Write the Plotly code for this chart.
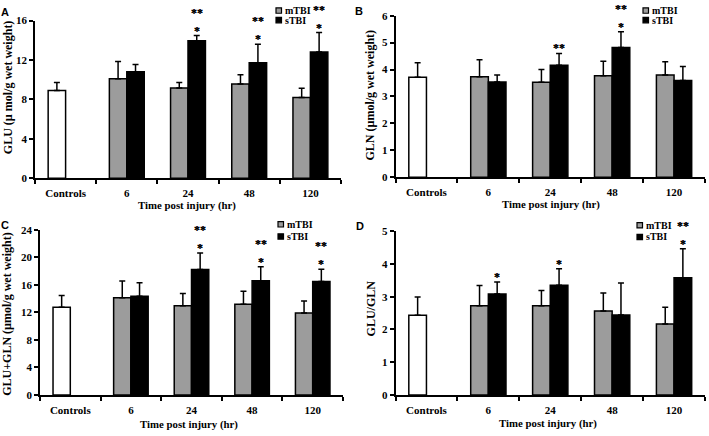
import plotly.graph_objects as go

W, H = 709, 436

# ---------------- data ----------------
time_points = ["6", "24", "48", "120"]
control_label = ["Controls"]

glu_ctrl = [8.9]
glu_ctrl_sd = [0.82]
glu_m = [10.1, 9.15, 9.57, 8.18]
glu_m_sd = [1.75, 0.56, 0.92, 0.96]
glu_s = [10.8, 13.95, 11.72, 12.8]
glu_s_sd = [0.73, 0.53, 1.88, 1.98]

gln_ctrl = [3.71]
gln_ctrl_sd = [0.54]
gln_m = [3.73, 3.53, 3.77, 3.8]
gln_m_sd = [0.63, 0.47, 0.54, 0.49]
gln_s = [3.54, 4.16, 4.82, 3.59]
gln_s_sd = [0.26, 0.44, 0.58, 0.52]

sum_ctrl = [12.75]
sum_ctrl_sd = [1.7]
sum_m = [14.1, 12.94, 13.18, 11.9]
sum_m_sd = [2.46, 1.79, 1.88, 1.75]
sum_s = [14.35, 18.2, 16.6, 16.47]
sum_s_sd = [1.95, 2.4, 2.0, 1.79]

ratio_ctrl = [2.43]
ratio_ctrl_sd = [0.56]
ratio_m = [2.72, 2.72, 2.56, 2.17]
ratio_m_sd = [0.62, 0.47, 0.55, 0.51]
ratio_s = [3.08, 3.35, 2.44, 3.58]
ratio_s_sd = [0.37, 0.5, 0.98, 0.88]

# significance marks above the sTBI bars (first level, second level)
glu_sig1 = ["", "*", "*", "*"]
glu_sig2 = ["", "**", "**", "**"]
gln_sig1 = ["", "**", "*", ""]
gln_sig2 = ["", "", "**", ""]
sum_sig1 = ["", "*", "*", "*"]
sum_sig2 = ["", "**", "**", "**"]
ratio_sig1 = ["*", "*", "", "*"]
ratio_sig2 = ["", "", "", "**"]

y_titles = ["GLU (\u00b5 mol/g wet weight)", "GLN (\u00b5mol/g wet weight)",
            "GLU+GLN (\u00b5mol/g wet weight)", "GLU/GLN"]
x_title = "Time post injury (hr)"
panel_letters = ["A", "B", "C", "D"]
y_ranges = [16, 6, 24, 5]
y_dticks = [4, 1, 4, 1]

# ---------------- style / layout ----------------
GREY = "#9c9c9c"
SERIF = "Liberation Serif, Times New Roman, serif"
SANS = "Liberation Sans, Arial, sans-serif"
BARGAP = 0.43

# pixel geometry of each panel: x0, x1, y_top, y_bottom
panels_px = [
    (35, 341, 15, 177),
    (395.5, 705, 10, 176),
    (40, 343, 230, 400),
    (395.5, 705, 231.5, 400),
]
ytitle_pos = [(7.5, 84), (370, 92), (7.5, 317), (371, 311)]
xtitle_pos = [(187, 205), (551, 204), (189, 430), (548, 429)]
letter_pos = [(5, 6), (358.5, 5.5), (4.5, 225), (360, 226)]
legend_pos = [(276, 4.7, 14.5), (643, 4.7, 14.5), (278, 224.5, 237), (637, 225.5, 237.5)]

datasets = [
    (glu_ctrl, glu_ctrl_sd, glu_m, glu_m_sd, glu_s, glu_s_sd, glu_sig1, glu_sig2),
    (gln_ctrl, gln_ctrl_sd, gln_m, gln_m_sd, gln_s, gln_s_sd, gln_sig1, gln_sig2),
    (sum_ctrl, sum_ctrl_sd, sum_m, sum_m_sd, sum_s, sum_s_sd, sum_sig1, sum_sig2),
    (ratio_ctrl, ratio_ctrl_sd, ratio_m, ratio_m_sd, ratio_s, ratio_s_sd, ratio_sig1, ratio_sig2),
]

categories = control_label + time_points

fig = go.Figure()
annotations = []
shapes = []


def err(sd):
    return dict(type="data", array=sd, arrayminus=[0] * len(sd), symmetric=False,
                color="black", thickness=1.5, width=3)


for i, (ctrl, ctrl_sd, m, m_sd, s, s_sd, sig1, sig2) in enumerate(datasets):
    n = "" if i == 0 else str(i + 1)
    xa, ya = "x" + n, "y" + n
    line = dict(color="black", width=1.5)
    fig.add_trace(go.Bar(x=control_label, y=ctrl, name="Controls", offsetgroup="m",
                         marker=dict(color="white", line=line), error_y=err(ctrl_sd),
                         xaxis=xa, yaxis=ya, showlegend=False))
    fig.add_trace(go.Bar(x=time_points, y=m, name="mTBI", offsetgroup="m",
                         marker=dict(color=GREY, line=line), error_y=err(m_sd),
                         xaxis=xa, yaxis=ya, showlegend=False))
    fig.add_trace(go.Bar(x=time_points, y=s, name="sTBI", offsetgroup="s",
                         marker=dict(color="black", line=line), error_y=err(s_sd),
                         xaxis=xa, yaxis=ya, showlegend=False))

    x0, x1, yt, yb = panels_px[i]
    axis_common = dict(showline=True, linecolor="black", linewidth=1.5, ticks="outside",
                       ticklen=4, tickwidth=1.5, tickcolor="black", showgrid=False,
                       zeroline=False,
                       tickfont=dict(family=SERIF, size=11, color="black", weight="bold"))
    fig.layout["xaxis" + n] = dict(axis_common, domain=[x0 / W, x1 / W], anchor=ya,
                                   type="category", categoryorder="array",
                                   categoryarray=categories, tickson="boundaries",
                                   range=[-0.5, 4.5], ticklabelstandoff=4)
    fig.layout["yaxis" + n] = dict(axis_common, domain=[1 - yb / H, 1 - yt / H], anchor=xa,
                                   range=[0, y_ranges[i]], dtick=y_dticks[i], tick0=0)

    # significance marks over sTBI bars
    off = (1 - BARGAP) / 4
    star_font = dict(family=SERIF, size=12, color="black", weight="bold",
                     shadow="0px 0px 0.6px black")
    for j, tp in enumerate(time_points):
        top = s[j] + s_sd[j]
        if sig1[j]:
            annotations.append(dict(x=j + 1 + off, y=top, xref=xa, yref=ya, text=sig1[j],
                                    showarrow=False, yanchor="bottom", yshift=-4,
                                    font=star_font))
        if sig2[j]:
            annotations.append(dict(x=j + 1 + off, y=top, xref=xa, yref=ya, text=sig2[j],
                                    showarrow=False, yanchor="bottom", yshift=14,
                                    font=star_font))

    # axis titles
    tx, ty = ytitle_pos[i]
    annotations.append(dict(x=tx / W, y=1 - ty / H, xref="paper", yref="paper",
                            text=y_titles[i], textangle=-90, showarrow=False,
                            xanchor="center", yanchor="middle",
                            font=dict(family=SERIF, size=12, color="black", weight="bold")))
    tx, ty = xtitle_pos[i]
    annotations.append(dict(x=tx / W, y=1 - ty / H, xref="paper", yref="paper",
                            text=x_title, showarrow=False, xanchor="center", yanchor="middle",
                            font=dict(family=SERIF, size=10.8, color="black", weight="bold")))
    # panel letter
    lx, ly = letter_pos[i]
    annotations.append(dict(x=lx / W, y=1 - ly / H, xref="paper", yref="paper",
                            text=panel_letters[i], showarrow=False,
                            xanchor="center", yanchor="middle",
                            font=dict(family=SANS, size=11, color="black", weight="bold")))
    # legend
    gx, r1, r2 = legend_pos[i]
    for label, fill, ry in (("mTBI", GREY, r1), ("sTBI", "black", r2)):
        shapes.append(dict(type="rect", xref="paper", yref="paper",
                           x0=gx / W, x1=(gx + 5.5) / W,
                           y0=1 - (ry + 2.75) / H, y1=1 - (ry - 2.75) / H,
                           fillcolor=fill, line=dict(color="black", width=1.2)))
        annotations.append(dict(x=(gx + 6.5) / W, y=1 - ry / H, xref="paper", yref="paper",
                                text=label, showarrow=False, xanchor="left", yanchor="middle",
                                font=dict(family=SERIF, size=10, color="black", weight="bold")))

fig.update_layout(
    width=W, height=H,
    margin=dict(l=0, r=0, t=0, b=0),
    paper_bgcolor="white", plot_bgcolor="white",
    barmode="group", bargap=BARGAP, bargroupgap=0,
    showlegend=False,
    annotations=annotations, shapes=shapes,
)

fig.write_html("out.html",
               config={"displayModeBar": False},
               post_script="document.body.style.margin='0px';document.body.style.overflow='hidden';")
